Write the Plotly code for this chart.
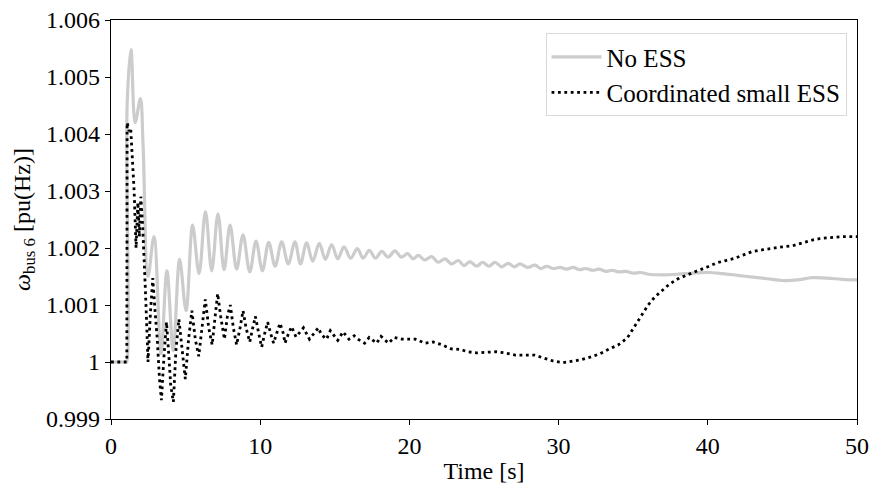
import plotly.graph_objects as go

# ---- data ----
t_no_ess = [0, 1.0, 1.05, 1.08, 1.34, 1.62, 1.97, 2.15, 2.48, 2.88, 3.35, 3.75, 4.17, 4.6, 5.03,
            5.47, 5.9, 6.33, 6.75, 7.17, 7.58, 7.98, 8.42, 8.85, 9.3, 9.72, 10.15, 10.57, 11.0,
            11.44, 11.88, 12.33, 12.7, 13.11, 13.52, 13.96, 14.37, 14.79, 15.2, 15.62, 16.06,
            16.51, 16.9, 17.31, 17.73, 18.14, 18.58, 19.03, 19.45, 19.88, 20.25, 20.6, 21.03,
            21.49, 21.93, 22.39, 22.82, 23.28, 23.66, 24.06, 24.5, 24.91, 25.33, 25.74, 26.18,
            26.63, 27.03, 27.41, 27.92, 28.42, 28.81, 29.2, 29.64, 30.09, 30.54, 30.98, 31.4,
            31.8, 32.3, 32.7, 33.2, 33.6, 34.0, 34.5, 35.0, 35.5, 36.0, 37.0, 38.0, 39.0, 40.0,
            41.0, 42.0, 43.0, 44.0, 45.0, 46.0, 47.0, 48.0, 49.0, 50.0]
v_no_ess = [1.0, 1.0, 1.0, 1.0045, 1.00548, 1.0042, 1.00462, 1.0038, 1.0015, 1.0022, 1.00015,
            1.0016, 1.0002, 1.0018, 1.0009, 1.0024, 1.00155, 1.00264, 1.0016, 1.0026, 1.00162,
            1.0024, 1.00163, 1.00223, 1.00158, 1.00212, 1.0016, 1.0021, 1.00168, 1.00211,
            1.00172, 1.00211, 1.00172, 1.00209, 1.00177, 1.00208, 1.0018, 1.00206, 1.00181,
            1.00202, 1.00182, 1.00199, 1.00182, 1.00196, 1.00182, 1.00194, 1.00184, 1.00195,
            1.00184, 1.0019, 1.00181, 1.00187, 1.00179, 1.00185, 1.00175, 1.00181, 1.00172,
            1.00178, 1.00169, 1.00176, 1.00168, 1.00175, 1.00168, 1.00175, 1.00167, 1.00173,
            1.00167, 1.00172, 1.00166, 1.0017, 1.00164, 1.00168, 1.00164, 1.00166, 1.00163,
            1.00166, 1.00162, 1.00164, 1.00161, 1.00163, 1.00159, 1.00161, 1.00158, 1.00159,
            1.00156, 1.00157, 1.00154, 1.00153, 1.00154, 1.00156, 1.00157, 1.00155, 1.00152,
            1.00149, 1.00146, 1.00143, 1.00144, 1.00148, 1.00147, 1.00145, 1.00144]

t_ess = [0, 1.0, 1.06, 1.08, 1.22, 1.32, 1.45, 1.55, 1.68, 1.8, 1.9, 2.0, 2.12, 2.2, 2.3, 2.4,
         2.48, 2.65, 2.8, 2.95, 3.1, 3.25, 3.38, 3.55, 3.72, 3.88, 4.0, 4.18, 4.35, 4.55, 4.75,
         4.98, 5.2, 5.42, 5.65, 5.88, 6.1, 6.32, 6.55, 6.78, 6.98, 7.15, 7.35, 7.6, 7.8, 8.0,
         8.2, 8.42, 8.65, 8.85, 9.05, 9.3, 9.5, 9.68, 9.9, 10.1, 10.3, 10.5, 10.7, 10.9, 11.1,
         11.33, 11.55, 11.66, 11.9, 12.1, 12.4, 12.6, 12.9, 13.3, 13.6, 13.9, 14.1, 14.45,
         14.7, 15.2, 15.55, 15.95, 16.3, 16.55, 17.0, 17.3, 17.8, 18.1, 18.6, 19.0, 19.5,
         19.96, 20.4, 21.05, 21.6, 22.2, 22.8, 23.4, 23.9, 24.5, 25.2, 25.8, 26.4, 27.1, 27.8,
         28.4, 29.0, 29.6, 30.3, 30.9, 31.5, 32.2, 32.8, 33.4, 34.0, 34.6, 35.0, 35.3, 35.65,
         36.0, 36.45, 36.9, 37.4, 38.0, 38.6, 39.3, 40.0, 40.6, 41.2, 41.8, 42.4, 43.0, 43.7,
         44.4, 45.0, 45.7, 46.4, 47.0, 47.6, 48.3, 49.0, 50.0]
v_ess = [1.0, 1.0, 1.0, 1.0042, 1.00405, 1.0041, 1.0035, 1.003, 1.002, 1.0028, 1.0022, 1.0029,
         1.0024, 1.002, 1.0013, 1.0006, 1.0, 1.0009, 1.00147, 1.0009, 1.0004, 0.9997, 0.99933,
         1.0001, 1.0007, 1.0001, 0.9996, 0.9993, 1.0002, 1.00075, 1.0002, 0.9997, 1.0004,
         1.0009, 1.0004, 1.0001, 1.0006, 1.0011, 1.0006, 1.0003, 1.0008, 1.0012, 1.0008,
         1.0004, 1.0008, 1.001, 1.0006, 1.0003, 1.0006, 1.0009, 1.0006, 1.00035, 1.0006,
         1.0008, 1.0005, 1.00026, 1.0005, 1.0007, 1.0005, 1.00033, 1.0005, 1.00068, 1.0005,
         1.00033, 1.0005, 1.00062, 1.00044, 1.0005, 1.0006, 1.0004, 1.0005, 1.0006, 1.00048,
         1.0004, 1.00055, 1.00038, 1.00053, 1.0004, 1.00046, 1.0004, 1.00033, 1.00043,
         1.00033, 1.00045, 1.00033, 1.00043, 1.0004, 1.0004, 1.0004, 1.00033, 1.00035, 1.0003,
         1.00023, 1.00022, 1.00018, 1.00016, 1.00017, 1.00018, 1.00016, 1.00012, 1.00012,
         1.00012, 1.00007, 1.00002, 0.99999, 1.00001, 1.00004, 1.00009, 1.00015, 1.00023,
         1.0003, 1.00042, 1.00058, 1.00071, 1.00086, 1.001, 1.00114, 1.00125, 1.00136,
         1.00146, 1.00153, 1.0016, 1.00167, 1.00174, 1.00178, 1.00182, 1.00188, 1.00194,
         1.00197, 1.002, 1.00202, 1.00204, 1.0021, 1.00214, 1.00217, 1.00219, 1.0022, 1.0022]

y_tickvals = [0.999, 1.0, 1.001, 1.002, 1.003, 1.004, 1.005, 1.006]
y_ticktext = ["0.999", "1", "1.001", "1.002", "1.003", "1.004", "1.005", "1.006"]
x_tickvals = [0, 10, 20, 30, 40, 50]

FONT = "'Liberation Serif', 'DejaVu Serif', serif"

fig = go.Figure()
fig.add_trace(go.Scatter(x=t_no_ess, y=v_no_ess, mode="lines", name="No ESS",
                         line=dict(color="#cccccc", width=3.2, shape="spline", smoothing=1.0)))
fig.add_trace(go.Scatter(x=t_ess, y=v_ess, mode="lines", name="Coordinated small ESS",
                         line=dict(color="black", width=2.8, dash="2.8px,3.6px")))

axis_common = dict(showline=True, linecolor="black", linewidth=1.2, mirror=True,
                   ticks="outside", ticklen=5, tickcolor="black", tickwidth=1.2,
                   showgrid=False, zeroline=False, automargin=False,
                   tickfont=dict(family=FONT, size=24, color="black"))

fig.update_xaxes(range=[0, 50], tickvals=x_tickvals,
                 title=dict(text="Time [s]", font=dict(family=FONT, size=24, color="black"), standoff=4),
                 **axis_common)
fig.update_yaxes(range=[0.999, 1.006], tickvals=y_tickvals, ticktext=y_ticktext,
                 title=dict(text="<i>ω</i><sub>bus 6</sub> [pu(Hz)]",
                            font=dict(family=FONT, size=24, color="black"), standoff=8),
                 **axis_common)

fig.update_layout(
    width=874, height=488,
    margin=dict(l=111, r=17, t=20, b=69),
    plot_bgcolor="white", paper_bgcolor="white",
    showlegend=True,
    legend=dict(x=0.986, xanchor="right", y=0.967, yanchor="top",
                bgcolor="white", bordercolor="#d9d9d9", borderwidth=1,
                font=dict(family=FONT, size=25, color="black"),
                itemwidth=50, tracegroupgap=2),
)

fig.write_html("out.html")
